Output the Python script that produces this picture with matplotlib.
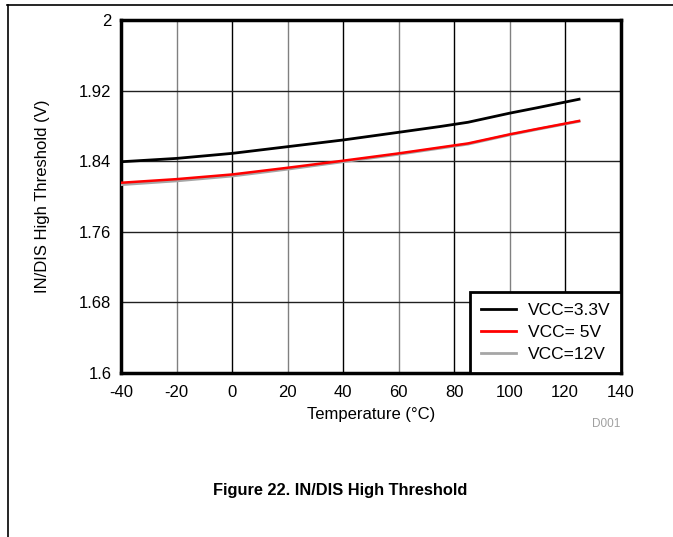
import matplotlib
matplotlib.use("Agg")
import matplotlib.pyplot as plt
from matplotlib.lines import Line2D

plt.rcParams['font.family'] = ['Liberation Sans', 'DejaVu Sans']
plt.rcParams['axes.unicode_minus'] = False

temps = [-40, -20, 0, 20, 40, 60, 75, 85, 100, 110, 125]
vcc33 = [1.8392, 1.8430, 1.8487, 1.8563, 1.8639, 1.8726, 1.8792, 1.8840, 1.8943, 1.9005, 1.9101]
vcc5 = [1.8154, 1.8195, 1.8248, 1.8324, 1.8404, 1.8487, 1.8555, 1.8600, 1.8703, 1.8765, 1.8855]
vcc12 = [1.8132, 1.8175, 1.8230, 1.8308, 1.8392, 1.8477, 1.8546, 1.8592, 1.8697, 1.8760, 1.8850]

series_labels = ['VCC=3.3V', 'VCC= 5V', 'VCC=12V']
x_ticks = [-40, -20, 0, 20, 40, 60, 80, 100, 120, 140]
y_ticks = [1.6, 1.68, 1.76, 1.84, 1.92, 2.0]
y_tick_labels = ['1.6', '1.68', '1.76', '1.84', '1.92', '2']

fig = plt.figure(figsize=(6.73, 5.37), dpi=100)
ax = fig.add_axes([0.1798, 0.3060, 0.7425, 0.6568])

ax.set_xlim(-40, 140)
ax.set_ylim(1.6, 2.0)
ax.set_xticks(x_ticks)
ax.set_yticks(y_ticks)
ax.set_yticklabels(y_tick_labels)
ax.tick_params(length=0, labelsize=12, pad=7)
ax.tick_params(axis='x', pad=9)

for i, t in enumerate(x_ticks[1:-1]):
    c = '#808080' if i % 2 == 0 else 'black'
    ax.axvline(t, color=c, lw=1.0, zorder=1)
for v in y_ticks[1:-1]:
    ax.axhline(v, color='#202020', lw=1.0, zorder=1)

ax.plot(temps, vcc12, color='#a6a6a6', lw=2, label=series_labels[2], zorder=3)
ax.plot(temps, vcc5, color='#ff0000', lw=1.8, label=series_labels[1], zorder=4)
ax.plot(temps, vcc33, color='black', lw=2, label=series_labels[0], zorder=5)

for s in ax.spines.values():
    s.set_linewidth(2.5)
    s.set_color('black')

handles = [Line2D([], [], color='black', lw=2),
           Line2D([], [], color='#ff0000', lw=2),
           Line2D([], [], color='#a6a6a6', lw=2)]
leg = ax.legend(handles, series_labels, loc='lower right', borderaxespad=0,
                fontsize=12.5, frameon=True, fancybox=False, handlelength=2.0,
                handletextpad=0.7, labelspacing=0.4, borderpad=0.6)
leg.get_frame().set_edgecolor('black')
leg.get_frame().set_linewidth(2)
leg.get_frame().set_alpha(1)
leg.set_zorder(10)

ax.set_xlabel('Temperature (°C)', fontsize=12, labelpad=5)
ax.set_ylabel('IN/DIS High Threshold (V)', fontsize=12, labelpad=21)

fig.text(620 / 673, 1 - 424 / 537, 'D001', ha='right', va='center',
         fontsize=8.5, color='#a0a0a0')
fig.text(340 / 673, 1 - 491 / 537, 'Figure 22. IN/DIS High Threshold',
         ha='center', va='center', fontsize=11.8, fontweight='bold')

# page frame lines
fig.add_artist(Line2D([7 / 673, 1], [1 - 5 / 537, 1 - 5 / 537],
                      transform=fig.transFigure, color='black', lw=1.2))
fig.add_artist(Line2D([7.5 / 673, 7.5 / 673], [1 - 5 / 537, 0],
                      transform=fig.transFigure, color='black', lw=1.2))

fig.savefig('out.png', dpi=100)
